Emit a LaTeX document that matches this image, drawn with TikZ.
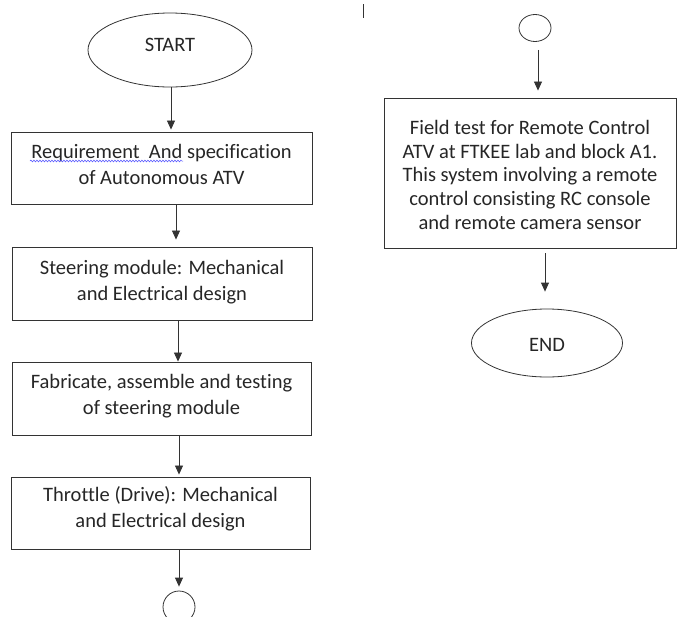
\documentclass[tikz,border=0pt]{standalone}
\usepackage{fontspec}
\setmainfont[Ligatures=CommonOff]{Carlito}
\usetikzlibrary{shapes.geometric,arrows.meta,decorations.pathmorphing}
\newcommand{\lift}[2]{\raisebox{#1}[\height][\depth]{#2}}
\begin{document}
\begin{tikzpicture}[x=1pt,y=-1pt,
  every node/.style={font=\fontsize{20.5}{26}\selectfont, text=black!85},
  box/.style={draw=black!80, line width=0.9pt, rectangle, inner sep=0pt, align=center},
  term/.style={draw=black!80, line width=0.8pt, ellipse, inner sep=0pt},
  conn/.style={draw=black!80, line width=0.8pt},
  squiggle/.style={draw=blue!70, line width=0.5pt, decorate, decoration={snake, amplitude=0.9pt, segment length=3pt}},
  arr/.style={draw=black!80, line width=0.8pt, -{Triangle[length=9pt,width=8pt]}}]
\useasboundingbox (0,0) rectangle (677,616);
\begin{scope}
\clip (0,0) rectangle (677,616);
\node[term, minimum width=164pt, minimum height=74pt] (start) at (170,50) {\lift{5pt}{START}};
\node[box, minimum width=301pt, minimum height=72pt] (b1) at (161.5,168) {\lift{1.5pt}{\begin{tabular}{@{}c@{}}Requirement\ \ And specification\\of Autonomous ATV\end{tabular}}};
\node[box, minimum width=300pt, minimum height=73pt] (b2) at (162,283.5) {\lift{1.5pt}{\begin{tabular}{@{}c@{}}Steering module: Mechanical\\and Electrical design\end{tabular}}};
\node[box, minimum width=299pt, minimum height=73pt] (b3) at (161.5,398.5) {\lift{2pt}{\begin{tabular}{@{}c@{}}Fabricate, assemble and testing\\of steering module\end{tabular}}};
\node[box, minimum width=299pt, minimum height=72pt] (b4) at (160.5,513) {\lift{4pt}{\begin{tabular}{@{}c@{}}Throttle (Drive): Mechanical\\and Electrical design\end{tabular}}};
\node[term, circle, minimum size=32pt] (c1) at (179,607) {};
\node[term, minimum width=32pt, minimum height=27pt] (c2) at (535,28) {};
\node[box, minimum width=292pt, minimum height=150pt, font=\fontsize{20.5}{23.7}\selectfont] (b5) at (530,173) {\lift{-4pt}{\begin{tabular}{@{}c@{}}Field test for Remote Control\\ATV at FTKEE lab and block A1.\\This system involving a remote\\control consisting RC console\\and remote camera sensor\end{tabular}}};
\node[term, minimum width=151pt, minimum height=68pt] (end) at (547,343) {\lift{-1.5pt}{END}};
\coordinate (bartop) at (363,4);
\coordinate (barbot) at (363,18);
\coordinate (sqa) at (30,161);
\coordinate (sqb) at (183,161);
\draw[squiggle] (sqa) -- (sqb);
\draw[conn, line width=1pt] (bartop) -- (barbot);
\draw[arr, shorten >=2pt] ([xshift=1pt]start.south) -- ([xshift=1pt]start.south |- b1.north);
\draw[arr, shorten >=7pt] ([xshift=14.5pt]b1.south) -- ([xshift=14.5pt]b1.south |- b2.north);
\draw[arr] ([xshift=16pt]b2.south) -- ([xshift=16pt]b2.south |- b3.north);
\draw[arr, shorten >=2pt] ([xshift=17.5pt]b3.south) -- ([xshift=17.5pt]b3.south |- b4.north);
\draw[arr, shorten >=4pt] (b4.south -| c1.north) -- (c1.north);
\draw[arr, shorten <=8pt, shorten >=7pt] ([xshift=3pt]c2.south) -- ([xshift=3pt]c2.south |- b5.north);
\draw[arr, shorten <=5pt, shorten >=17pt] ([xshift=15pt]b5.south) -- ([xshift=15pt]b5.south |- end.north);
\end{scope}
\end{tikzpicture}
\end{document}
